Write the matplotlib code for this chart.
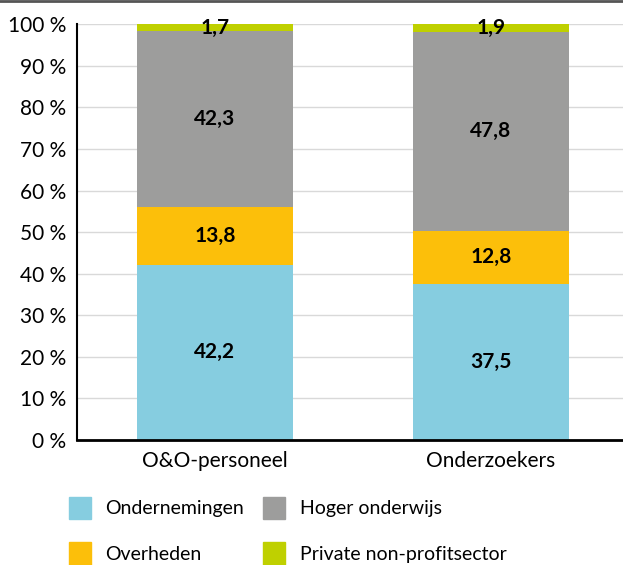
import matplotlib.pyplot as plt
from matplotlib.patches import Patch
from matplotlib.lines import Line2D

groups = ["O&O-personeel", "Onderzoekers"]
series = ["Ondernemingen", "Overheden", "Hoger onderwijs", "Private non-profitsector"]
values = {
    "Ondernemingen": [42.2, 37.5],
    "Overheden": [13.8, 12.8],
    "Hoger onderwijs": [42.3, 47.8],
    "Private non-profitsector": [1.7, 1.9],
}
colors = {
    "Ondernemingen": "#86CDE0",
    "Overheden": "#FCBF0A",
    "Hoger onderwijs": "#9D9D9C",
    "Private non-profitsector": "#BFD000",
}
yticks = [0, 10, 20, 30, 40, 50, 60, 70, 80, 90, 100]

plt.rcParams['font.family'] = ['Lato', 'DejaVu Sans']

fig = plt.figure(figsize=(6.23, 5.65), dpi=100)
ax = fig.add_axes([0.1236, 0.2212, 0.876, 0.736])

x = list(range(len(groups)))
bottom = [0, 0]
for s in series:
    ax.bar(x, values[s], 0.565, bottom=bottom, color=colors[s], zorder=2)
    for i in x:
        ax.text(i, bottom[i] + values[s][i] / 2, f"{values[s][i]:.1f}".replace(".", ","),
                ha="center", va="center", fontsize=15, fontweight="bold", zorder=3)
    bottom = [b + v for b, v in zip(bottom, values[s])]

ax.set_xlim(-0.5, 1.478)
ax.set_ylim(0, 100)
ax.set_yticks(yticks)
ax.set_yticklabels([f"{t} %" for t in yticks], fontsize=15)
ax.set_xticks(x)
ax.set_xticklabels(groups, fontsize=15)
ax.tick_params(axis="y", length=0, pad=8)
ax.tick_params(axis="x", length=0, pad=8)
ax.grid(axis="y", color="#D9D9D9", linewidth=1, zorder=0)
for sp in ["top", "right"]:
    ax.spines[sp].set_visible(False)
ax.spines["left"].set_linewidth(1.5)
ax.spines["bottom"].set_linewidth(2)
ax.spines["left"].set_zorder(4)

fig.add_artist(Line2D([0, 1], [0.998, 0.998], color="#555555", linewidth=2, transform=fig.transFigure))

handles = [Patch(color=colors[s]) for s in ["Ondernemingen", "Overheden", "Hoger onderwijs", "Private non-profitsector"]]
labels = ["Ondernemingen", "Overheden", "Hoger onderwijs", "Private non-profitsector"]
fig.legend(handles, labels, ncol=2, loc="upper left", bbox_to_anchor=(0.082, 0.152),
           frameon=False, fontsize=14, handlelength=1.13, handleheight=1.4,
           columnspacing=1.0, labelspacing=1.2, handletextpad=0.75)

fig.savefig("out.png", dpi=100)
